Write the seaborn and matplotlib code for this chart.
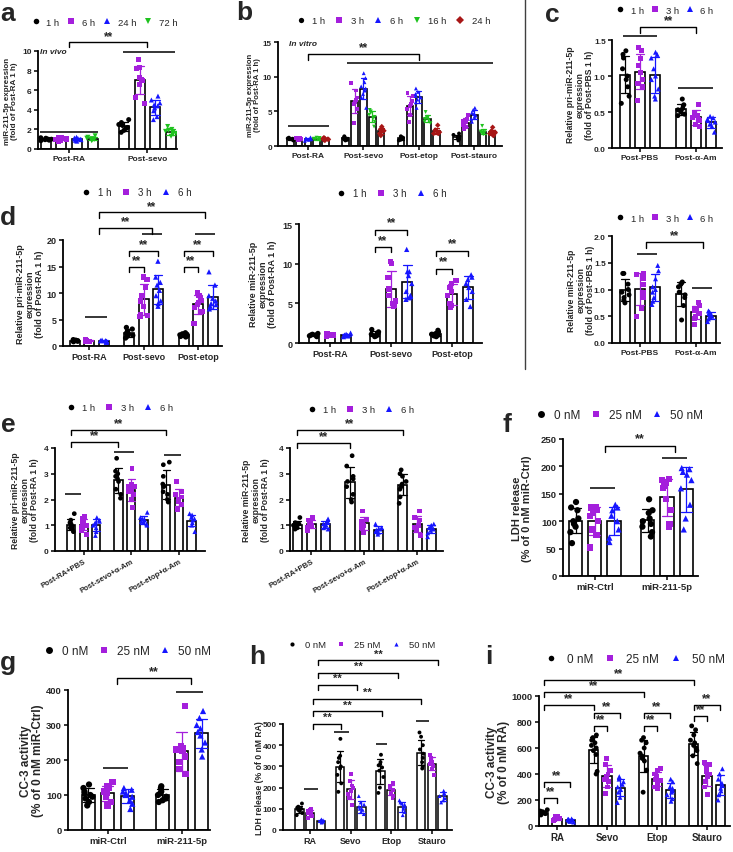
import numpy as np
import pandas as pd
import matplotlib
matplotlib.use("Agg")
import matplotlib.pyplot as plt
from matplotlib.lines import Line2D
import seaborn as sns

np.random.seed(7)

# ------------------------------------------------------------------ data
A_GROUPS = ["Post-RA", "Post-sevo"]
A_HUES = ["1 h", "6 h", "24 h", "72 h"]
A_1H = [[0.85, 0.9, 0.95, 1.0, 1.0, 1.05, 1.1, 1.15], [1.7, 1.9, 2.1, 2.2, 2.4, 2.5, 2.7, 3.0]]
A_6H = [[0.8, 0.9, 0.95, 1.0, 1.05, 1.1, 1.15, 1.2], [4.6, 5.3, 6.6, 7.0, 7.1, 7.3, 8.2, 8.3, 9.1]]
A_24H = [[0.8, 0.88, 0.95, 1.0, 1.02, 1.08, 1.12, 1.2], [3.0, 3.3, 3.9, 4.2, 4.4, 4.5, 4.7, 5.0, 5.4]]
A_72H = [[0.85, 0.9, 0.98, 1.02, 1.05, 1.1, 1.2, 1.35], [1.3, 1.5, 1.6, 1.7, 1.8, 1.9, 2.0, 2.3]]

B_GROUPS = ["Post-RA", "Post-sevo", "Post-etop", "Post-stauro"]
B_HUES = ["1 h", "3 h", "6 h", "16 h", "24 h"]
B_1H = [[0.8, 0.9, 0.95, 1.0, 1.05, 1.1, 1.2], [0.8, 0.9, 1.0, 1.1, 1.2, 1.3, 1.4],
        [0.8, 0.9, 1.0, 1.1, 1.2, 1.3, 1.4], [0.8, 1.0, 1.2, 1.3, 1.4, 1.6, 1.8]]
B_3H = [[0.8, 0.9, 1.0, 1.0, 1.1, 1.15, 1.2], [3.3, 5.3, 6.0, 6.4, 6.6, 7.0, 8.0, 9.1],
        [3.5, 4.5, 5.3, 5.8, 6.0, 6.5, 7.2, 7.6], [2.5, 2.8, 3.0, 3.3, 3.4, 3.6, 3.9, 4.5]]
B_6H = [[0.75, 0.9, 0.95, 1.0, 1.05, 1.1, 1.25], [5.5, 7.0, 7.5, 8.0, 8.3, 8.6, 9.2, 9.8, 10.5],
        [5.5, 6.3, 6.7, 7.0, 7.2, 7.5, 7.8, 8.3], [3.5, 3.9, 4.2, 4.4, 4.6, 4.8, 5.2, 5.5]]
B_16H = [[0.8, 0.9, 1.0, 1.05, 1.1, 1.15, 1.2], [2.8, 3.5, 4.0, 4.2, 4.5, 4.8, 5.0, 5.2],
         [3.3, 3.5, 3.7, 3.9, 4.0, 4.2, 4.9], [1.7, 1.8, 1.9, 2.0, 2.0, 2.1, 2.9]]
B_24H = [[0.8, 0.9, 0.95, 1.0, 1.05, 1.1, 1.2], [1.5, 1.8, 2.0, 2.2, 2.4, 2.5, 2.8],
         [1.8, 1.8, 1.9, 2.0, 2.1, 2.3, 3.0], [1.5, 1.6, 1.8, 1.9, 2.0, 2.2, 2.7]]

C_GROUPS = ["Post-PBS", "Post-α-Am"]
T_HUES = ["1 h", "3 h", "6 h"]
C1_1H = [[0.62, 0.72, 0.85, 0.95, 1.0, 1.1, 1.25, 1.3, 1.35], [0.45, 0.47, 0.5, 0.52, 0.53, 0.55, 0.6, 0.68]]
C1_3H = [[0.66, 0.85, 0.9, 0.95, 1.05, 1.15, 1.25, 1.35, 1.4], [0.3, 0.33, 0.38, 0.4, 0.42, 0.45, 0.5, 0.61]]
C1_6H = [[0.68, 0.72, 0.82, 0.95, 1.0, 1.1, 1.25, 1.3, 1.33], [0.22, 0.3, 0.33, 0.36, 0.38, 0.4, 0.42, 0.44]]
C2_1H = [[0.75, 0.8, 0.85, 0.9, 0.95, 1.0, 1.1, 1.3, 1.3], [0.43, 0.7, 0.85, 0.9, 0.95, 1.05, 1.1, 1.12, 1.14]]
C2_3H = [[0.5, 0.65, 0.85, 0.95, 1.1, 1.2, 1.25, 1.28, 1.3], [0.35, 0.45, 0.5, 0.55, 0.6, 0.6, 0.65, 0.7, 0.75]]
C2_6H = [[0.72, 0.78, 0.85, 0.95, 1.0, 1.05, 1.2, 1.35, 1.45], [0.4, 0.45, 0.48, 0.5, 0.52, 0.55, 0.58, 0.6]]

D_GROUPS = ["Post-RA", "Post-sevo", "Post-etop"]
D1_1H = [[0.8, 0.9, 1.0, 1.0, 1.1, 1.2], [1.5, 1.8, 2.0, 2.2, 2.4, 2.8, 3.2, 3.5], [1.7, 1.8, 1.9, 2.0, 2.1, 2.2, 2.3, 2.5]]
D1_3H = [[0.8, 0.9, 1.0, 1.05, 1.1, 1.15], [5.5, 5.8, 6.0, 7.5, 8.5, 9.5, 11.0, 12.5, 13.0],
         [4.2, 6.5, 7.2, 7.8, 8.2, 8.6, 9.0, 9.5, 10.0]]
D1_6H = [[0.7, 0.8, 0.9, 1.0, 1.0, 1.1], [7.5, 8.0, 8.5, 9.5, 10.5, 11.5, 12.0, 13.0, 16.0],
         [7.0, 7.5, 7.8, 8.0, 8.5, 9.0, 9.5, 11.5, 14.0]]
D2_1H = [[0.8, 0.9, 1.0, 1.0, 1.1, 1.2], [0.8, 0.9, 1.0, 1.1, 1.2, 1.4, 1.7], [0.8, 0.9, 1.0, 1.1, 1.2, 1.4, 1.6]]
D2_3H = [[0.8, 0.9, 1.0, 1.05, 1.1, 1.2], [4.6, 4.8, 5.0, 5.3, 6.0, 6.8, 8.3, 10.0, 10.3],
         [4.5, 4.7, 5.0, 6.0, 6.5, 7.0, 7.5, 7.9]]
D2_6H = [[0.8, 0.9, 0.95, 1.0, 1.1, 1.25], [5.5, 5.7, 6.0, 6.5, 7.5, 8.5, 9.0, 9.0, 11.8],
         [4.6, 5.5, 6.5, 7.0, 7.5, 8.0, 8.3, 8.6]]

E_GROUPS = ["Post-RA+PBS", "Post-sevo+α-Am", "Post-etop+α-Am"]
E1_1H = [[0.75, 0.85, 0.9, 0.95, 1.0, 1.05, 1.1, 1.2, 1.45], [2.05, 2.2, 2.4, 2.7, 2.8, 2.9, 3.0, 3.1, 3.6],
         [1.9, 2.0, 2.2, 2.3, 2.5, 2.6, 2.9, 3.35, 3.45]]
E1_3H = [[0.65, 0.8, 0.9, 1.0, 1.05, 1.1, 1.15, 1.25, 1.35], [1.7, 2.0, 2.2, 2.3, 2.4, 2.5, 2.5, 2.6, 3.2],
         [1.6, 1.8, 1.9, 2.0, 2.1, 2.2, 2.3, 2.7]]
E1_6H = [[0.6, 0.75, 0.9, 1.0, 1.05, 1.1, 1.15, 1.2, 1.3], [1.0, 1.05, 1.1, 1.15, 1.2, 1.25, 1.3, 1.5],
         [0.75, 1.0, 1.1, 1.2, 1.25, 1.3, 1.4, 1.45]]
E2_1H = [[0.85, 0.9, 0.95, 1.0, 1.0, 1.05, 1.1, 1.3], [1.9, 2.0, 2.2, 2.5, 2.7, 2.8, 2.9, 3.3, 3.7],
         [1.85, 2.1, 2.4, 2.5, 2.6, 2.7, 2.9, 3.0, 3.15]]
E2_3H = [[0.8, 0.9, 0.95, 1.0, 1.05, 1.1, 1.2, 1.3], [0.7, 0.9, 1.0, 1.05, 1.1, 1.15, 1.2, 1.55],
         [0.6, 0.8, 0.9, 1.0, 1.1, 1.2, 1.3, 1.55]]
E2_6H = [[0.85, 0.9, 0.95, 1.0, 1.05, 1.1, 1.15, 1.25], [0.65, 0.72, 0.78, 0.82, 0.85, 0.9, 1.05],
         [0.55, 0.7, 0.8, 0.85, 0.9, 0.95, 1.0, 1.05]]

FG_GROUPS = ["miR-Ctrl", "miR-211-5p"]
NM_HUES = ["0 nM", "25 nM", "50 nM"]
F_0 = [[60, 80, 90, 95, 100, 105, 120, 125, 135], [72, 80, 90, 95, 100, 105, 115, 120, 140]]
F_25 = [[52, 75, 85, 100, 110, 115, 120, 125, 125], [90, 95, 120, 140, 160, 165, 170, 175, 177]]
F_50 = [[62, 70, 85, 100, 110, 120, 125, 130], [85, 105, 130, 160, 175, 185, 190, 195, 197]]
G_0 = [[70, 80, 90, 95, 100, 105, 110, 120, 130], [80, 85, 90, 95, 100, 105, 110, 120, 125]]
G_25 = [[70, 80, 95, 100, 105, 110, 120, 125, 138], [160, 175, 195, 210, 225, 230, 235, 240, 355]]
G_50 = [[60, 75, 85, 95, 100, 105, 110, 115, 120], [210, 230, 250, 270, 280, 290, 300, 320, 340]]

HI_GROUPS = ["RA", "Sevo", "Etop", "Stauro"]
H_0 = [[70, 80, 90, 95, 100, 105, 110, 125], [180, 220, 260, 290, 300, 320, 340, 350, 430],
       [175, 200, 250, 280, 295, 305, 310, 320, 355], [290, 300, 320, 340, 360, 380, 400, 440, 460]]
H_25 = [[55, 65, 75, 80, 85, 90, 95, 100], [120, 150, 170, 185, 200, 210, 230, 265],
        [150, 160, 175, 190, 200, 205, 210, 220], [260, 290, 300, 310, 320, 330, 340, 355]]
H_50 = [[35, 38, 40, 42, 44, 46, 50], [75, 85, 95, 100, 110, 120, 130, 160],
        [70, 85, 100, 110, 120, 125, 130, 140], [130, 140, 150, 160, 170, 175, 185]]
I_0 = [[85, 90, 95, 100, 105, 110, 115, 125], [400, 420, 550, 580, 600, 620, 640, 660, 680, 700],
       [260, 430, 500, 520, 540, 560, 600, 640, 660, 680], [480, 540, 580, 600, 620, 640, 660, 700, 740, 770]]
I_25 = [[40, 45, 50, 55, 60, 65, 70, 75], [250, 300, 340, 360, 380, 400, 430, 470, 520],
        [290, 300, 330, 350, 360, 380, 400, 430, 445], [240, 300, 340, 380, 400, 420, 440, 470, 490]]
I_50 = [[30, 35, 40, 45, 48, 50, 52, 55], [180, 220, 260, 280, 300, 320, 340, 360, 380],
        [190, 210, 240, 260, 270, 290, 300, 340, 360], [200, 240, 270, 290, 310, 330, 360, 400, 440]]

# ------------------------------------------------------------------ style
K, PU, BL, GR, DR = "#000000", "#A41FDC", "#1616FF", "#1EC21E", "#A81616"
COL3 = [K, PU, BL]
MK3 = ["o", "s", "^"]

sns.set_style("ticks")
plt.rcParams["font.family"] = ["Liberation Sans", "DejaVu Sans"]
plt.rcParams["axes.edgecolor"] = "black"

W, H = 733, 853
fig = plt.figure(figsize=(W / 100, H / 100), dpi=100)


def add_ax(x0, y0, x1, y1):
    return fig.add_axes([x0 / W, 1 - y1 / H, (x1 - x0) / W, (y1 - y0) / H])


def hx(g, k, n):
    return g + (k - (n - 1) / 2) * 0.8 / n


def panel(box, groups, hues, series, colors, markers, xlim, ylim, yticks, ytl,
          gap=0.33, msize=3.5, jitter=0.25, tick_fs=6, xfs=6, lw=1.2, xrot=0):
    ax = add_ax(*box)
    rows = [(g, h, v) for h, s in zip(hues, series) for g, pts in zip(groups, s) for v in pts]
    df = pd.DataFrame(rows, columns=["group", "time", "value"])
    pal = dict(zip(hues, colors))
    sns.barplot(data=df, x="group", y="value", hue="time", order=groups, hue_order=hues,
                palette=pal, errorbar="sd", fill=False, gap=gap, linewidth=lw,
                capsize=0.45, err_kws={"linewidth": 0.9}, legend=False, ax=ax)
    for p in ax.patches:
        p.set_fill(True)
        p.set_facecolor("white")
        p.set_edgecolor("black")
    for h, m in zip(hues, markers):
        sns.stripplot(data=df[df.time == h], x="group", y="value", hue="time", order=groups,
                      hue_order=hues, palette=pal, dodge=True, jitter=jitter, marker=m,
                      size=msize, linewidth=0, legend=False, ax=ax, zorder=4)
    ax.set_xlim(*xlim)
    ax.set_ylim(*ylim)
    ax.set_yticks(yticks)
    ax.set_yticklabels(ytl, fontsize=tick_fs, fontweight="bold")
    ax.set_xticks(range(len(groups)))
    if xrot:
        ax.set_xticklabels(groups, fontsize=xfs, fontweight="bold", rotation=xrot,
                           ha="right", rotation_mode="anchor")
    else:
        ax.set_xticklabels(groups, fontsize=xfs, fontweight="bold")
    ax.set_xlabel("")
    ax.set_ylabel("")
    sns.despine(ax=ax)
    for s in ["left", "bottom"]:
        ax.spines[s].set_linewidth(1.3)
    ax.tick_params(axis="both", width=1.1, length=3, pad=1.5, color="black")
    return ax


def ylab(ax, text, px, fs):
    ax.set_ylabel(text, fontsize=fs, fontweight="bold", linespacing=1.1)
    pos = ax.get_position()
    ax.yaxis.set_label_coords((px / W - pos.x0) / pos.width, 0.5)
    ax.yaxis.label.set_verticalalignment("center")
    ax.yaxis.label.set_rotation_mode("default")


def yd(ax, py):
    return ax.transData.inverted().transform((0, H - py))[1]


def hline(ax, x0, x1, py):
    y = yd(ax, py)
    ax.plot([x0, x1], [y, y], color="black", lw=1.1, clip_on=False, solid_capstyle="butt")


def bracket(ax, x0, x1, py, drop=5, fs=8.5, tpy=None):
    y, yb = yd(ax, py), yd(ax, py + drop)
    ax.plot([x0, x0, x1, x1], [yb, y, y, yb], color="black", lw=1.0, clip_on=False)
    tpy = py - 5 if tpy is None else tpy
    ax.text((x0 + x1) / 2, yd(ax, tpy), "**", ha="center", va="center", fontsize=fs,
            fontweight="bold", clip_on=False)


def legend(cx, cy, labels, colors, markers, fs=7, ms=4, colsp=1.0, htp=0.9):
    hs = [Line2D([], [], ls="none", marker=m, color=c, markersize=ms, markeredgewidth=0)
          for c, m in zip(colors, markers)]
    fig.legend(hs, labels, loc="center", bbox_to_anchor=(cx / W, 1 - cy / H), ncol=len(labels),
               frameon=False, fontsize=fs, handlelength=0.7, handletextpad=htp,
               columnspacing=colsp, borderpad=0, borderaxespad=0)


def letter(x, y, s):
    fig.text(x / W, 1 - y / H, s, fontsize=19, fontweight="bold", ha="center", va="center")


# ------------------------------------------------------------------ a
ax = panel((38, 52, 177, 150), A_GROUPS, A_HUES, [A_1H, A_6H, A_24H, A_72H],
           [K, PU, BL, GR], ["o", "s", "^", "v"], (-0.40, 1.38), (0, 10),
           [0, 2, 4, 6, 8, 10], ["0", "2", "4", "6", "8", "10"], gap=0.36, msize=3.6, jitter=0.3)
ylab(ax, "miR-211-5p expression\n(fold of Post-RA 1 h)", 11, 5.8)
ax.text(0.015, 0.99, "In vivo", transform=ax.transAxes, fontsize=6, fontweight="bold",
        fontstyle="italic", ha="left", va="center")
hline(ax, -0.37, 0.37, 133)
hline(ax, 0.69, 1.36, 53)
bracket(ax, 0.0, 1.0, 43, tpy=37)
legend(105, 23, A_HUES, [K, PU, BL, GR], ["o", "s", "^", "v"], fs=6.8, colsp=0.9, htp=0.8)
letter(8, 14, "a")

# ------------------------------------------------------------------ b
ax = panel((278, 43, 502, 147), B_GROUPS, B_HUES, [B_1H, B_3H, B_6H, B_16H, B_24H],
           [K, PU, BL, GR, DR], ["o", "s", "^", "v", "D"], (-0.54, 3.5), (0, 15),
           [0, 5, 10, 15], ["0", "5", "10", "15"], gap=0.25, msize=2.8, jitter=0.3,
           tick_fs=5.8)
ylab(ax, "miR-211-5p expression\n(fold of Post-RA 1 h)", 254, 5.5)
ax.text(0.05, 0.99, "In vitro", transform=ax.transAxes, fontsize=6, fontweight="bold",
        fontstyle="italic", ha="left", va="center")
hline(ax, -0.36, 0.38, 127)
hline(ax, 0.70, 3.34, 64)
bracket(ax, 0.0, 2.0, 55, drop=6, tpy=48)
legend(394, 22, B_HUES, [K, PU, BL, GR, DR], ["o", "s", "^", "v", "D"], fs=6.8, ms=3.8,
       colsp=1.1, htp=0.9)
letter(244, 13, "b")

# ------------------------------------------------------------------ c (top)
ax = panel((612, 41, 722, 149), C_GROUPS, T_HUES, [C1_1H, C1_3H, C1_6H], COL3, MK3,
           (-0.5, 1.46), (0, 1.5), [0, 0.5, 1.0, 1.5], ["0.0", "0.5", "1.0", "1.5"],
           gap=0.33, msize=3.6, jitter=0.22)
ylab(ax, "Relative pri-miR-211-5p\nexpression\n(fold of Post-PBS 1 h)", 580, 6.2)
hline(ax, -0.30, 0.30, 37)
hline(ax, 0.68, 1.30, 89)
bracket(ax, 0.0, 1.0, 28, drop=6, tpy=21)
legend(665, 11, T_HUES, COL3, MK3, fs=6.8, colsp=0.8, htp=0.8)
letter(552, 15, "c")

# ------------------------------------------------------------------ d (left)
ax = panel((63, 241, 222, 347), D_GROUPS, T_HUES, [D1_1H, D1_3H, D1_6H], COL3, MK3,
           (-0.48, 2.44), (0, 20), [0, 5, 10, 15, 20], ["0", "5", "10", "15", "20"],
           gap=0.31, msize=3.8, jitter=0.22, tick_fs=6.5, xfs=6.5)
ylab(ax, "Relative pri-miR-211-5p\nexpression\n(fold of Post-RA 1 h)", 30, 6.5)
hline(ax, -0.07, 0.33, 318)
hline(ax, 0.97, 1.34, 235)
hline(ax, 1.94, 2.31, 235)
bracket(ax, hx(1, 0, 3), hx(1, 1, 3), 268, tpy=261)
bracket(ax, hx(1, 0, 3), hx(1, 2, 3), 252, tpy=245)
bracket(ax, hx(2, 0, 3), hx(2, 1, 3), 268, tpy=261)
bracket(ax, hx(2, 0, 3), hx(2, 2, 3), 252, tpy=245)
bracket(ax, 0.18, 1.16, 229, drop=6, tpy=222)
bracket(ax, 0.18, 2.13, 213, drop=6, tpy=207)
legend(137, 193, T_HUES, COL3, MK3, fs=7, colsp=1.1)
letter(8, 218, "d")

# ------------------------------------------------------------------ d (right)
ax = panel((299, 225, 482, 344), D_GROUPS, T_HUES, [D2_1H, D2_3H, D2_6H], COL3, MK3,
           (-0.51, 2.49), (0, 15), [0, 5, 10, 15], ["0", "5", "10", "15"],
           gap=0.39, msize=3.8, jitter=0.22, tick_fs=6.5, xfs=6.5)
ylab(ax, "Relative miR-211-5p\nexpression\n(fold of Post-RA 1 h)", 263, 6.5)
bracket(ax, hx(1, 0, 3), hx(1, 1, 3), 248, tpy=241)
bracket(ax, hx(1, 0, 3), hx(1, 2, 3), 231, tpy=223)
bracket(ax, hx(2, 0, 3), hx(2, 1, 3), 270, tpy=262)
bracket(ax, hx(2, 0, 3), hx(2, 2, 3), 252, tpy=244)
legend(392, 194, T_HUES, COL3, MK3, fs=7, colsp=1.1)

# ------------------------------------------------------------------ c (bottom)
ax = panel((612, 237, 720, 344), C_GROUPS, T_HUES, [C2_1H, C2_3H, C2_6H], COL3, MK3,
           (-0.5, 1.43), (0, 2.0), [0, 0.5, 1.0, 1.5, 2.0], ["0.0", "0.5", "1.0", "1.5", "2.0"],
           gap=0.33, msize=3.6, jitter=0.22)
ylab(ax, "Relative miR-211-5p\nexpression\n(fold of Post-PBS 1 h)", 581, 6.2)
hline(ax, -0.05, 0.30, 255)
hline(ax, 0.93, 1.29, 289)
bracket(ax, 0.11, 1.13, 243, drop=6, tpy=236)
legend(665, 219, T_HUES, COL3, MK3, fs=6.8, colsp=0.8, htp=0.8)

# ------------------------------------------------------------------ e (left)
ax = panel((55, 449, 205, 552), E_GROUPS, T_HUES, [E1_1H, E1_3H, E1_6H], COL3, MK3,
           (-0.6, 2.55), (0, 4), [0, 1, 2, 3, 4], ["0", "1", "2", "3", "4"],
           gap=0.36, msize=3.4, jitter=0.22, xfs=5.5, xrot=30)
ylab(ax, "Relative pri-miR-211-5p\nexpression\n(fold of Post-RA 1 h)", 25, 6.2)
hline(ax, hx(0, 0, 3) - 0.12, hx(0, 1, 3) - 0.05, 495)
hline(ax, hx(1, 0, 3) - 0.1, hx(1, 1, 3) + 0.05, 453)
hline(ax, hx(2, 0, 3) - 0.05, hx(2, 1, 3) + 0.05, 456)
bracket(ax, hx(0, 0, 3), hx(1, 0, 3), 443, tpy=436)
bracket(ax, hx(0, 0, 3), hx(2, 0, 3), 431, tpy=424)
legend(120, 409, T_HUES, COL3, MK3, fs=6.8, colsp=1.1)
letter(8, 425, "e")

# ------------------------------------------------------------------ e (right)
ax = panel((290, 449, 443, 552), E_GROUPS, T_HUES, [E2_1H, E2_3H, E2_6H], COL3, MK3,
           (-0.4, 2.49), (0, 4), [0, 1, 2, 3, 4], ["0", "1", "2", "3", "4"],
           gap=0.36, msize=3.4, jitter=0.22, xfs=5.5, xrot=30)
ylab(ax, "Relative miR-211-5p\nexpression\n(fold of Post-RA 1 h)", 256, 6.2)
bracket(ax, hx(0, 0, 3), hx(1, 0, 3), 444, tpy=437)
bracket(ax, hx(0, 0, 3), hx(2, 0, 3), 431, tpy=424)
legend(361, 411, T_HUES, COL3, MK3, fs=6.8, colsp=1.1)

# ------------------------------------------------------------------ f
ax = panel((563, 440, 698, 577), FG_GROUPS, NM_HUES, [F_0, F_25, F_50], COL3, MK3,
           (-0.44, 1.43), (0, 250), [0, 50, 100, 150, 200, 250],
           ["0", "50", "100", "150", "200", "250"], gap=0.32, msize=4.5, jitter=0.22,
           tick_fs=6.8, xfs=6.8)
ylab(ax, "LDH release\n(% of 0 nM miR-Ctrl)", 522, 8)
hline(ax, -0.07, 0.28, 489)
hline(ax, 0.93, 1.28, 459)
bracket(ax, 0.14, 1.11, 447, drop=6, fs=9, tpy=439)
legend(620, 416, NM_HUES, COL3, MK3, fs=8.5, ms=5, colsp=0.9, htp=0.8)
letter(507, 425, "f")

# ------------------------------------------------------------------ g
ax = panel((68, 691, 210, 831), FG_GROUPS, NM_HUES, [G_0, G_25, G_50], COL3, MK3,
           (-0.54, 1.38), (0, 400), [0, 100, 200, 300, 400],
           ["0", "100", "200", "300", "400"], gap=0.34, msize=4.5, jitter=0.22,
           tick_fs=6.8, xfs=6.8)
ylab(ax, "CC-3 activity\n(% of 0 nM miR-Ctrl)", 32, 8.5)
hline(ax, -0.07, 0.27, 769)
hline(ax, 0.92, 1.28, 693)
bracket(ax, 0.12, 1.12, 679, drop=6, fs=9, tpy=672)
legend(128, 652, NM_HUES, COL3, MK3, fs=8.5, ms=5, colsp=0.9, htp=0.8)
letter(8, 663, "g")

# ------------------------------------------------------------------ h
ax = panel((283, 725, 452, 831), HI_GROUPS, NM_HUES, [H_0, H_25, H_50], COL3, MK3,
           (-0.67, 3.5), (0, 500), [0, 100, 200, 300, 400, 500],
           ["0", "100", "200", "300", "400", "500"], gap=0.23, msize=2.8, jitter=0.22,
           lw=1.1, tick_fs=6, xfs=6.5)
ylab(ax, "LDH release (% of 0 nM RA)", 259, 6.2)
hline(ax, -0.15, 0.20, 790)
hline(ax, 0.60, 0.96, 733)
hline(ax, 1.63, 1.90, 745)
hline(ax, 2.62, 2.94, 722)
bracket(ax, 0.07, 0.77, 725, drop=5, fs=8, tpy=718)
bracket(ax, 0.07, 1.78, 712, drop=5, fs=8, tpy=706)
bracket(ax, 0.07, 2.74, 700, drop=5, fs=8, tpy=693)
bracket(ax, 0.20, 1.16, 686, drop=5, fs=8, tpy=679)
bracket(ax, 0.20, 2.17, 674, drop=5, fs=8, tpy=667)
bracket(ax, 0.20, 3.16, 661, drop=5, fs=8, tpy=655)
legend(362, 646, NM_HUES, COL3, MK3, fs=6.8, ms=3, colsp=1.3, htp=1.0)
letter(257, 657, "h")

# ------------------------------------------------------------------ i
ax = panel((539, 697, 730, 827), HI_GROUPS, NM_HUES, [I_0, I_25, I_50], COL3, MK3,
           (-0.36, 3.46), (0, 1000), [0, 200, 400, 600, 800, 1000],
           ["0", "200", "400", "600", "800", "1000"], gap=0.32, msize=3.5, jitter=0.22,
           tick_fs=6.8, xfs=7)
ylab(ax, "CC-3 activity\n(% of 0 nM RA)", 498, 8.5)
for g in range(4):
    top = {0: (783, 799), 1: (714, 727), 2: (714, 727), 3: (706, 717)}[g]
    bracket(ax, hx(g, 0, 3), hx(g, 2, 3), top[0], drop=5, fs=8.5, tpy=top[0] - 7)
    bracket(ax, hx(g, 0, 3), hx(g, 1, 3), top[1], drop=5, fs=8.5, tpy=top[1] - 7)
bracket(ax, hx(0, 0, 3), hx(1, 0, 3), 706, drop=5, fs=8.5, tpy=699)
bracket(ax, hx(0, 0, 3), hx(2, 0, 3), 693, drop=5, fs=8.5, tpy=686)
bracket(ax, hx(0, 0, 3), hx(3, 0, 3), 681, drop=5, fs=8.5, tpy=674)
legend(636, 660, NM_HUES, COL3, MK3, fs=8.5, ms=4, colsp=1.1, htp=1.0)
letter(489, 657, "i")

# ------------------------------------------------------------------ separator
fig.add_artist(Line2D([525 / W, 525 / W], [1.0, 1 - 370 / H], color="0.25", lw=1.0))

fig.savefig("out.png", dpi=100)
